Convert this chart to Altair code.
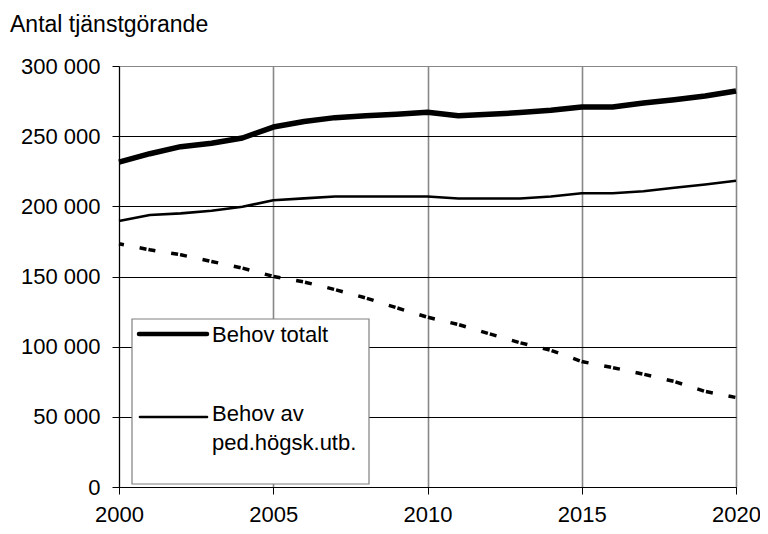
import altair as alt
import pandas as pd

years = list(range(2000, 2021))
behov_totalt = [231500, 237500, 242500, 245000, 248700, 256500, 260500, 263200, 264500, 265600,
                267000, 264500, 265600, 266800, 268400, 270800, 270800, 273600, 276000, 278600, 282200]
behov_ped = [189500, 193800, 195000, 196800, 199700, 204300, 205700, 207000, 207000, 207000,
             207000, 205600, 205600, 205600, 207000, 209300, 209300, 210800, 213200, 215600, 218200]
kvar = [173300, 169000, 165500, 160700, 156000, 150100, 146100, 140700, 134700, 127700,
        121000, 115800, 109200, 102800, 97400, 89400, 85100, 80400, 75200, 68100, 63800]

series_names = ["Behov totalt", "Behov av ped.högsk.utb.", "Kvarvarande"]
x_ticks = [2000, 2005, 2010, 2015, 2020]
y_ticks = [0, 50000, 100000, 150000, 200000, 250000, 300000]
title_text = "Antal tjänstgörande"

rows = []
for name, vals in zip(series_names, [behov_totalt, behov_ped, kvar]):
    for y, v in zip(years, vals):
        rows.append({"year": y, "value": v, "series": name})
df = pd.DataFrame(rows)

FONT = "Liberation Sans"

x_enc = alt.X("year:Q",
              scale=alt.Scale(domain=[2000, 2020], nice=False, zero=False),
              axis=alt.Axis(values=x_ticks, format="d", title=None, grid=True,
                            gridColor="#888888", gridWidth=1.6,
                            domainColor="#000000", tickColor="#000000", tickSize=7,
                            labelFontSize=22, labelFont=FONT, labelColor="#000000",
                            labelPadding=10, labelFlush=False, labelOverlap=False))
y_enc = alt.Y("value:Q",
              scale=alt.Scale(domain=[0, 300000], nice=False),
              axis=alt.Axis(values=y_ticks, title=None, grid=True,
                            gridColor={"condition": {"test": "datum.value >= 300000", "value": "#888888"},
                                       "value": "#000000"},
                            gridWidth=1.2,
                            labelExpr="replace(format(datum.value, ','), ',', ' ')",
                            domainColor="#000000", tickColor="#000000", tickSize=7,
                            labelFontSize=22, labelFont=FONT, labelColor="#000000",
                            labelPadding=12, labelFlush=False, labelOverlap=False))

base = alt.Chart(df).encode(x=x_enc, y=y_enc)

thick = base.transform_filter(alt.datum.series == series_names[0]).mark_line(
    color="#000000", strokeWidth=5.5, strokeJoin="round")
thin = base.transform_filter(alt.datum.series == series_names[1]).mark_line(
    color="#000000", strokeWidth=2.6, strokeJoin="round")
dashed = base.transform_filter(alt.datum.series == series_names[2]).mark_line(
    color="#000000", strokeWidth=3.5, strokeDash=[7, 2, 7, 16], strokeDashOffset=11, strokeCap="butt")

one = pd.DataFrame({"k": [0]})

legend_box = alt.Chart(one).mark_rect(fill="#ffffff", stroke="#808080", strokeWidth=1.2).encode(
    x=alt.value(13), x2=alt.value(250), y=alt.value(253), y2=alt.value(418))
leg_thick = alt.Chart(one).mark_rule(color="#000000", strokeWidth=4.5, strokeCap="round").encode(
    x=alt.value(20), x2=alt.value(88), y=alt.value(268))
leg_thin = alt.Chart(one).mark_rule(color="#000000", strokeWidth=2.6, strokeCap="round").encode(
    x=alt.value(21), x2=alt.value(88), y=alt.value(351))
leg_t1 = alt.Chart(one).mark_text(align="left", baseline="alphabetic", fontSize=22, font=FONT,
                                  color="#000000").encode(
    x=alt.value(93), y=alt.value(276), text=alt.value("Behov totalt"))
leg_t2 = alt.Chart(one).mark_text(align="left", baseline="alphabetic", fontSize=22, font=FONT,
                                  color="#000000").encode(
    x=alt.value(93), y=alt.value(355), text=alt.value("Behov av"))
leg_t3 = alt.Chart(one).mark_text(align="left", baseline="alphabetic", fontSize=22, font=FONT,
                                  color="#000000").encode(
    x=alt.value(93), y=alt.value(384), text=alt.value("ped.högsk.utb."))
title_mark = alt.Chart(one).mark_text(align="left", baseline="alphabetic", fontSize=23, font=FONT,
                                      color="#000000").encode(
    x=alt.value(-109), y=alt.value(-34), text=alt.value(title_text))

chart = alt.layer(thick, thin, dashed, legend_box, leg_thick, leg_thin, leg_t1, leg_t2, leg_t3,
                  title_mark).properties(
    width=617, height=421,
    autosize=alt.AutoSizeParams(type="none"),
    padding={"left": 111, "top": 58, "right": 24, "bottom": 39},
).configure_view(stroke=None).configure(background="#ffffff")

chart.save("out.html", embed_options={"renderer": "svg", "actions": False})
